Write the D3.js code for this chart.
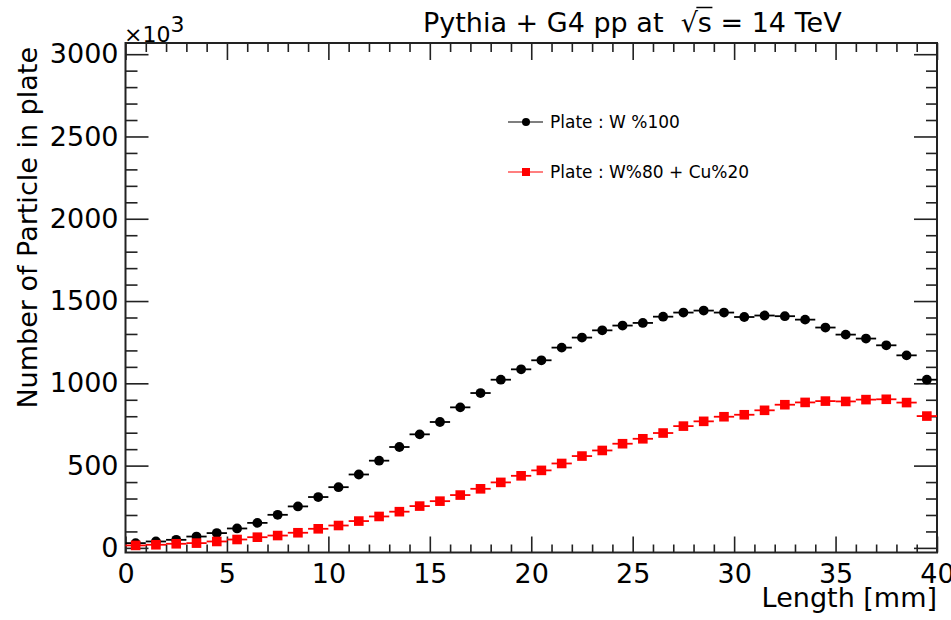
<!DOCTYPE html>
<html>
<head>
<meta charset="utf-8">
<script src="https://cdn.jsdelivr.net/npm/d3@7"></script>
<style>
  body { margin: 0; background: #fff; }
  text { font-family: "DejaVu Sans", sans-serif; fill: #000; }
</style>
</head>
<body>
<div id="chart"></div>
<script>
// bin centres (mm) and particle counts (x10^3)
var lengthMm = [0.5, 1.5, 2.5, 3.5, 4.5, 5.5, 6.5, 7.5, 8.5, 9.5,
  10.5, 11.5, 12.5, 13.5, 14.5, 15.5, 16.5, 17.5, 18.5, 19.5,
  20.5, 21.5, 22.5, 23.5, 24.5, 25.5, 26.5, 27.5, 28.5, 29.5,
  30.5, 31.5, 32.5, 33.5, 34.5, 35.5, 36.5, 37.5, 38.5, 39.5];
var plateW100 = [29, 39, 49, 69, 90, 118, 152, 201, 252, 309,
  369, 446, 530, 613, 690, 765, 854, 941, 1022, 1085,
  1140, 1217, 1278, 1322, 1351, 1367, 1405, 1430, 1442, 1430,
  1403, 1412, 1408, 1387, 1339, 1296, 1272, 1231, 1170, 1022];
var plateW80Cu20 = [15, 19, 25, 29, 39, 51, 65, 75, 92, 116,
  136, 163, 191, 220, 254, 284, 321, 359, 398, 438,
  471, 513, 558, 592, 633, 663, 698, 740, 769, 797,
  809, 836, 870, 884, 892, 890, 901, 903, 883, 801];
var binWidth = 1;

var xMajor = [0, 5, 10, 15, 20, 25, 30, 35, 40];
var xMinor = [1, 2, 3, 4, 6, 7, 8, 9, 11, 12, 13, 14, 16, 17, 18, 19, 21, 22, 23, 24,
  26, 27, 28, 29, 31, 32, 33, 34, 36, 37, 38, 39];
var yMajor = [0, 500, 1000, 1500, 2000, 2500, 3000];
var yMinor = [100, 200, 300, 400, 600, 700, 800, 900, 1100, 1200, 1300, 1400,
  1600, 1700, 1800, 1900, 2100, 2200, 2300, 2400, 2600, 2700, 2800, 2900];

var legendNames = ["Plate : W %100", "Plate : W%80 + Cu%20"];
var seriesColors = ["#000000", "#ff0000"];

var W = 951, H = 620;
var svg = d3.select("#chart").append("svg").attr("width", W).attr("height", H);
svg.append("rect").attr("width", W).attr("height", H).attr("fill", "#fff");

var x = d3.scaleLinear().domain([0, 40]).range([125.5, 937]);
var y = d3.scaleLinear().domain([-28, 3068]).range([552.5, 43]);
var fmt = d3.format("d");

function styleAxis(g){
	g.select(".domain").remove();
	g.attr("color", "#222").attr("font-family", "DejaVu Sans").attr("font-size", 27);
	g.selectAll("line").attr("stroke-width", 1.6);
	g.selectAll("text").attr("fill", "#000");
}

// ticks: left / right / bottom / top, majors with labels on left and bottom
svg.append("g").attr("transform", "translate(" + x(0) + ",0)")
	.call(d3.axisLeft(y).tickValues(yMajor).tickSize(-23).tickPadding(7).tickFormat(fmt)).call(styleAxis);
svg.append("g").attr("transform", "translate(" + x(0) + ",0)")
	.call(d3.axisLeft(y).tickValues(yMinor).tickSize(-12).tickFormat("")).call(styleAxis);
svg.append("g").attr("transform", "translate(" + x(40) + ",0)")
	.call(d3.axisRight(y).tickValues(yMajor).tickSize(-23).tickFormat("")).call(styleAxis);
svg.append("g").attr("transform", "translate(" + x(40) + ",0)")
	.call(d3.axisRight(y).tickValues(yMinor).tickSize(-11).tickFormat("")).call(styleAxis);
svg.append("g").attr("transform", "translate(0," + y.range()[0] + ")")
	.call(d3.axisBottom(x).tickValues(xMajor).tickSize(-16).tickPadding(11).tickFormat(fmt)).call(styleAxis);
svg.append("g").attr("transform", "translate(0," + y.range()[0] + ")")
	.call(d3.axisBottom(x).tickValues(xMinor).tickSize(-8).tickFormat("")).call(styleAxis);
svg.append("g").attr("transform", "translate(0," + y.range()[1] + ")")
	.call(d3.axisTop(x).tickValues(xMajor).tickSize(-17).tickFormat("")).call(styleAxis);
svg.append("g").attr("transform", "translate(0," + y.range()[1] + ")")
	.call(d3.axisTop(x).tickValues(xMinor).tickSize(-9).tickFormat("")).call(styleAxis);

// frame
svg.append("rect").attr("x", x(0)).attr("y", y.range()[1])
	.attr("width", x(40) - x(0)).attr("height", y.range()[0] - y.range()[1])
	.attr("fill", "none").attr("stroke", "#222").attr("stroke-width", 2);

// data: horizontal bin-width bars then markers
function drawSeries(values, color, shape){
	var g = svg.append("g");
	g.selectAll("line").data(values).enter().append("line")
		.attr("x1", function(d, i){ return x(lengthMm[i] - binWidth / 2); })
		.attr("x2", function(d, i){ return x(lengthMm[i] + binWidth / 2); })
		.attr("y1", function(d){ return y(d); })
		.attr("y2", function(d){ return y(d); })
		.attr("stroke", color).attr("stroke-width", 1.8);
	if(shape == "circle"){
		g.selectAll("circle").data(values).enter().append("circle")
			.attr("cx", function(d, i){ return x(lengthMm[i]); })
			.attr("cy", function(d){ return y(d); })
			.attr("r", 4.9).attr("fill", color);
	} else {
		var s = 9.6;
		g.selectAll("rect").data(values).enter().append("rect")
			.attr("x", function(d, i){ return x(lengthMm[i]) - s / 2; })
			.attr("y", function(d){ return y(d) - s / 2; })
			.attr("width", s).attr("height", s).attr("fill", color);
	}
}
drawSeries(plateW100, seriesColors[0], "circle");
drawSeries(plateW80Cu20, seriesColors[1], "square");

// legend
var legY = [122, 172];
for(var i = 0; i < legendNames.length; i++){
	svg.append("line").attr("x1", 508).attr("x2", 543).attr("y1", legY[i]).attr("y2", legY[i])
		.attr("stroke", seriesColors[i]).attr("stroke-width", 1.2);
	if(i == 0){
		svg.append("circle").attr("cx", 526).attr("cy", legY[i]).attr("r", 4).attr("fill", seriesColors[i]);
	} else {
		svg.append("rect").attr("x", 522).attr("y", legY[i] - 4).attr("width", 8).attr("height", 8).attr("fill", seriesColors[i]);
	}
	svg.append("text").attr("x", 550).attr("y", legY[i] + 6).attr("font-size", 17).text(legendNames[i]);
}

// axis titles
svg.append("text").attr("x", 937).attr("y", 607).attr("font-size", 27)
	.attr("text-anchor", "end").text("Length [mm]");
svg.append("text").attr("transform", "translate(37,47) rotate(-90)").attr("font-size", 27)
	.attr("text-anchor", "end").text("Number of Particle in plate");

// x10^3 multiplier
var mult = svg.append("text").attr("x", 124).attr("y", 42).attr("font-size", 22);
mult.append("tspan").text("\u00d710");
mult.append("tspan").attr("dy", -10).text("3");

// title with sqrt(s), overline drawn over the s
var title = "Pythia + G4 pp at  \u221as = 14 TeV";
var t = svg.append("text").attr("x", 423).attr("y", 32).attr("font-size", 27)
	.style("white-space", "pre").text(title);
var rIdx = title.indexOf("\u221a");
var node = t.node();
var rootEnd = node.getEndPositionOfChar(rIdx).x;
var sEnd = node.getEndPositionOfChar(rIdx + 1).x;
svg.append("line").attr("x1", rootEnd - 1.5).attr("x2", sEnd + 0.5)
	.attr("y1", 32 - 24.5).attr("y2", 32 - 24.5).attr("stroke", "#000").attr("stroke-width", 1.5);
</script>
</body>
</html>
